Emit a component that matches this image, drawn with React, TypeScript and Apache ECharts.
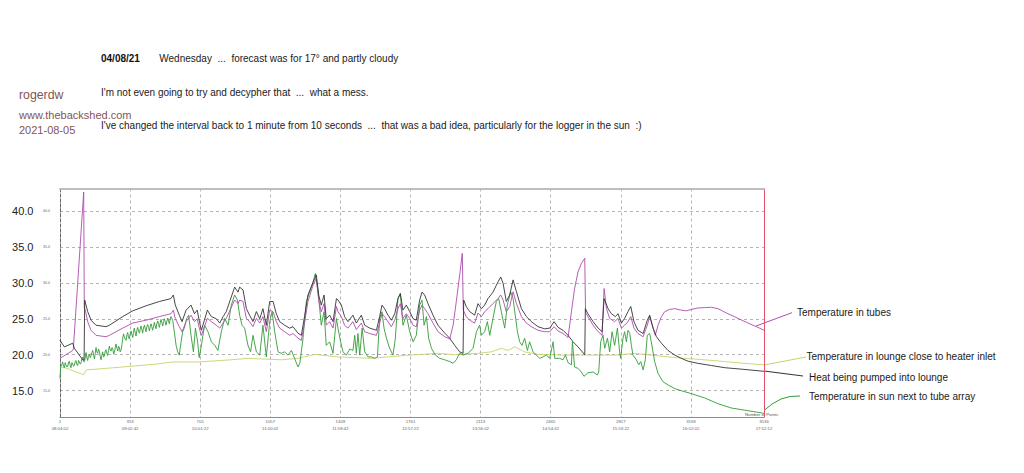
import React, { useEffect, useRef } from "react";
import * as echarts from "echarts";

const xTickIdx = [1, 353, 705, 1057, 1409, 1761, 2113, 2465, 2817, 3169, 3536];
const xTickTimes = ["08:04:02", "09:02:42", "10:01:22", "11:00:02", "11:58:42", "12:57:22", "13:56:02", "14:54:42", "15:53:22", "16:52:02", "17:52:12"];
const yTicks = [15, 20, 25, 30, 35, 40];

const seriesNames = [
  "Temperature in lounge close to heater inlet",
  "Temperature in sun next to tube array",
  "Temperature in tubes",
  "Heat being pumped into lounge",
];

const lounge: [number, number][] = [
  [1, 18.3], [23, 18.2], [48, 18.0], [81, 17.6], [107, 17.4], [118, 17.2], [135, 17.9], [182, 18.0], [316, 18.3], [483, 18.7], [567, 19.0], [700, 19.0], [861, 19.3], [945, 19.5], [1029, 19.4], [1112, 19.3], [1196, 19.5], [1280, 20.05], [1397, 19.7], [1564, 19.5], [1732, 19.9], [1899, 20.2], [1983, 20.0], [2100, 20.2], [2167, 20.4], [2217, 20.9], [2251, 20.6], [2284, 21.1], [2334, 20.4], [2401, 20.05], [2518, 19.95], [2686, 19.95], [2803, 19.95], [2887, 20.2], [2970, 19.95], [3054, 19.7], [3138, 19.5], [3238, 19.3], [3339, 19.05], [3439, 18.8], [3536, 18.6],
];

const sun: [number, number][] = [
  [1, 16.7], [4, 18.3], [10, 18.6], [14, 19.0], [19, 18.4], [23, 18.2], [27, 18.9], [31, 18.6], [36, 18.3], [40, 18.4], [44, 19.0], [48, 19.1], [52, 18.5], [56, 18.2], [61, 18.9], [65, 18.7], [69, 18.4], [73, 18.5], [77, 19.0], [81, 19.2], [86, 18.6], [90, 18.5], [94, 19.2], [98, 19.0], [103, 18.7], [107, 18.9], [111, 19.5], [115, 19.7], [119, 19.1], [123, 19.0], [128, 19.6], [132, 20.3], [136, 19.6], [140, 19.2], [144, 19.9], [148, 20.1], [153, 19.6], [157, 19.9], [161, 20.3], [165, 20.6], [170, 19.9], [174, 19.4], [178, 20.2], [182, 21.0], [186, 20.4], [190, 20.2], [195, 20.8], [199, 20.4], [203, 19.8], [207, 19.3], [211, 19.9], [215, 20.4], [220, 19.7], [224, 19.8], [228, 20.5], [232, 20.7], [236, 20.2], [240, 19.9], [245, 20.6], [249, 21.2], [253, 20.7], [257, 20.5], [262, 21.0], [266, 20.9], [270, 20.1], [274, 20.3], [278, 20.9], [282, 21.5], [287, 20.9], [291, 20.5], [295, 21.2], [299, 21.0], [303, 20.4], [307, 20.6], [312, 21.4], [316, 22.3], [320, 22.9], [324, 22.5], [329, 22.1], [333, 22.0], [337, 22.8], [341, 23.1], [345, 22.4], [349, 22.2], [354, 23.0], [358, 23.3], [362, 22.8], [366, 22.4], [370, 23.1], [374, 23.7], [379, 23.0], [383, 22.6], [387, 23.4], [391, 23.8], [396, 23.2], [400, 23.0], [404, 23.6], [408, 24.0], [412, 23.5], [416, 23.0], [420, 23.7], [425, 24.1], [429, 23.6], [433, 23.2], [437, 23.9], [441, 24.2], [446, 23.8], [450, 23.3], [454, 23.9], [458, 24.3], [462, 23.9], [466, 23.4], [471, 24.0], [475, 24.5], [479, 24.0], [483, 23.6], [487, 24.3], [492, 24.7], [496, 24.2], [500, 23.8], [504, 24.4], [508, 24.9], [512, 24.5], [517, 24.0], [521, 24.6], [525, 25.0], [529, 24.6], [533, 24.1], [538, 24.7], [542, 25.1], [546, 24.7], [550, 24.3], [554, 24.9], [558, 25.3], [563, 25.0], [567, 24.8], [575, 23.2], [584, 21.3], [592, 20.4], [600, 19.95], [609, 21.8], [617, 23.2], [625, 23.7], [637, 25.05], [647, 25.5], [659, 22.7], [671, 20.4], [681, 23.7], [692, 21.8], [700, 19.6],
  [711, 21.3], [727, 24.1], [744, 23.2], [761, 21.8], [778, 21.3], [794, 20.6], [811, 23.2], [828, 25.05], [845, 24.1], [861, 26.9], [878, 28.3], [892, 27.6], [903, 25.5], [915, 24.1], [928, 23.7], [945, 21.3], [958, 20.4], [970, 22.7], [987, 20.4], [1004, 19.95], [1020, 24.1], [1037, 19.7], [1054, 24.6], [1066, 25.97], [1079, 23.2], [1096, 20.4], [1112, 20.2], [1129, 20.4], [1146, 19.95], [1163, 20.6], [1179, 19.5], [1196, 18.3], [1205, 18.8], [1221, 22.2], [1238, 27.4], [1255, 28.75], [1272, 30.1], [1283, 31.3], [1297, 28.75], [1313, 24.1], [1327, 25.97], [1338, 21.3], [1355, 21.8], [1372, 20.2], [1389, 25.05], [1397, 23.7],
  [1410, 21.8], [1422, 20.4], [1439, 19.95], [1456, 20.8], [1472, 20.6], [1481, 22.7], [1489, 20.2], [1497, 22.95], [1506, 19.95], [1518, 23.7], [1531, 20.4], [1548, 19.7], [1564, 19.7], [1581, 19.5], [1595, 19.7], [1606, 25.05], [1618, 25.97], [1628, 23.7], [1640, 22.3], [1656, 20.9], [1673, 19.95], [1685, 22.3], [1698, 27.8], [1710, 28.5], [1723, 24.1], [1740, 25.5], [1757, 23.2], [1774, 21.8], [1790, 22.7], [1807, 26.9], [1819, 27.6], [1829, 24.1], [1841, 25.3], [1852, 22.3], [1866, 20.9], [1886, 19.95], [1908, 19.5], [1933, 19.3], [1958, 19.05], [1975, 18.8], [1991, 19.3], [2008, 20.2], [2025, 19.95], [2050, 20.2], [2075, 20.9], [2092, 23.2], [2108, 24.1],
  [2117, 22.7], [2133, 23.2], [2147, 24.6], [2159, 22.7], [2175, 25.05], [2192, 27.4], [2204, 27.8], [2217, 25.97], [2234, 23.7], [2247, 26.9], [2264, 28.75], [2276, 27.8], [2287, 25.5], [2298, 23.2], [2309, 21.8], [2321, 21.3], [2334, 22.3], [2348, 20.6], [2359, 21.8], [2376, 20.4], [2393, 19.95], [2410, 19.5], [2426, 19.7], [2443, 19.95], [2460, 19.5], [2477, 21.8], [2485, 19.5], [2510, 19.5], [2527, 19.3], [2539, 19.95], [2552, 18.9], [2569, 18.6], [2574, 21.8], [2585, 18.3], [2602, 18.1], [2619, 17.6], [2632, 17.0], [2652, 17.5], [2678, 17.6], [2699, 17.2], [2706, 17.6], [2716, 21.8], [2728, 22.7], [2736, 20.9], [2750, 22.3], [2761, 20.4], [2773, 23.2], [2786, 21.3], [2800, 23.7], [2811, 20.4],
  [2816, 19.5], [2828, 22.3], [2836, 23.2], [2845, 21.8], [2853, 23.4], [2862, 22.95], [2870, 21.3], [2878, 19.95], [2895, 19.3], [2907, 18.6], [2917, 19.05], [2929, 17.9], [2940, 19.3], [2950, 22.7], [2962, 22.95], [2970, 21.8], [2987, 19.05], [3004, 17.4], [3029, 16.25], [3054, 15.8], [3088, 15.3], [3121, 15.0], [3171, 14.6], [3238, 14.0], [3305, 13.2], [3372, 12.6], [3439, 12.3], [3506, 12.0], [3536, 11.85],
];

const tubes: [number, number][] = [
  [1, 19.5], [30, 20.0], [65, 20.6], [68, 20.8], [120, 42.6], [123, 26.5], [128, 26.2], [140, 24.6], [157, 23.4], [182, 22.7], [232, 22.5], [249, 22.7], [316, 23.7], [366, 24.4], [433, 24.8], [500, 25.3], [558, 25.7], [570, 26.2], [580, 25.0], [600, 23.9], [614, 23.2], [634, 24.6], [659, 25.5], [676, 24.6], [690, 25.0], [702, 23.5], [711, 22.7],
  [741, 25.05], [761, 24.6], [786, 24.1], [803, 23.7], [820, 24.4], [836, 25.05], [878, 27.6], [895, 27.1], [903, 27.6], [920, 27.4], [937, 25.05], [953, 24.6], [970, 23.9], [987, 25.05], [1004, 24.4], [1020, 25.3], [1037, 23.2], [1054, 26.2], [1071, 25.97], [1087, 24.6], [1104, 23.7], [1129, 23.2], [1154, 22.7], [1171, 22.95], [1196, 22.3], [1213, 22.0], [1230, 24.6], [1246, 27.4], [1272, 29.7], [1288, 30.6], [1300, 27.6], [1313, 25.97], [1327, 27.1], [1338, 24.1], [1355, 24.6], [1372, 23.7], [1389, 26.7],
  [1397, 25.97], [1414, 25.3], [1430, 24.1], [1447, 23.7], [1472, 24.6], [1489, 23.5], [1514, 24.4], [1531, 23.2], [1556, 22.95], [1590, 22.7], [1606, 24.35], [1618, 25.7], [1631, 25.3], [1648, 24.6], [1665, 23.9], [1682, 24.8], [1698, 26.4], [1710, 27.1], [1723, 25.05], [1740, 25.7], [1757, 25.05], [1774, 24.1], [1790, 23.9], [1807, 26.2], [1819, 26.9], [1832, 26.4], [1849, 25.7], [1874, 24.4], [1899, 23.2], [1933, 22.5], [1958, 22.2], [1975, 24.1], [1991, 27.4], [2008, 31.1], [2021, 34.1], [2026, 26.2], [2041, 25.3], [2058, 24.8], [2083, 24.4], [2100, 25.8],
  [2117, 25.3], [2133, 25.97], [2150, 26.4], [2175, 27.1], [2200, 27.8], [2214, 28.3], [2226, 27.6], [2242, 25.97], [2259, 26.7], [2276, 28.75], [2293, 27.1], [2318, 25.3], [2343, 24.4], [2368, 23.9], [2401, 23.4], [2435, 23.2], [2460, 23.2], [2482, 23.9], [2502, 23.3], [2527, 22.95], [2552, 22.4], [2569, 25.97], [2585, 29.2], [2602, 31.5], [2619, 32.7], [2636, 33.4], [2640, 25.9], [2652, 25.3], [2678, 24.1], [2703, 23.2], [2723, 22.7], [2733, 29.2], [2745, 26.4], [2761, 25.05], [2786, 24.6], [2803, 25.05],
  [2820, 23.7], [2836, 24.1], [2853, 24.6], [2867, 25.3], [2883, 23.7], [2903, 22.95], [2929, 22.5], [2950, 24.1], [2962, 25.3], [2979, 23.7], [2990, 22.7], [3004, 24.1], [3021, 25.3], [3037, 25.97], [3062, 26.3], [3088, 26.4], [3121, 26.2], [3146, 26.1], [3171, 26.3], [3205, 26.5], [3238, 26.55], [3272, 26.6], [3305, 26.4], [3355, 25.7], [3406, 25.05], [3456, 24.4], [3506, 23.8], [3536, 23.4],
];

const heat: [number, number][] = [
  [1, 22.0], [23, 21.1], [65, 21.6], [73, 20.9], [115, 19.3], [122, 19.3], [125, 27.6], [140, 26.0], [157, 24.8], [182, 24.1], [232, 23.9], [249, 24.1], [316, 25.3], [366, 26.1], [433, 26.8], [500, 27.4], [558, 27.8], [570, 28.3], [580, 26.9], [600, 25.5], [614, 24.6], [634, 26.2], [659, 26.9], [676, 25.7], [690, 26.2], [702, 24.5], [711, 23.4],
  [741, 26.2], [761, 25.3], [786, 25.0], [803, 24.4], [820, 25.3], [836, 26.0], [878, 29.4], [895, 28.7], [903, 29.4], [920, 29.0], [937, 26.4], [953, 25.5], [970, 24.6], [987, 26.0], [1004, 25.0], [1020, 26.4], [1037, 24.1], [1054, 27.4], [1071, 27.4], [1087, 25.7], [1104, 24.6], [1129, 24.1], [1154, 23.7], [1171, 23.9], [1196, 23.0], [1213, 22.7], [1230, 25.5], [1246, 28.3], [1272, 30.1], [1288, 31.1], [1300, 28.3], [1313, 26.9], [1327, 28.3], [1338, 25.0], [1355, 25.5], [1372, 24.6], [1389, 27.8],
  [1397, 27.6], [1414, 26.9], [1430, 25.3], [1447, 24.6], [1472, 25.5], [1489, 24.4], [1514, 25.5], [1531, 24.1], [1556, 23.7], [1590, 23.4], [1606, 25.3], [1618, 26.9], [1631, 26.4], [1648, 25.5], [1665, 24.8], [1682, 25.7], [1698, 27.8], [1710, 28.5], [1723, 26.2], [1740, 26.9], [1757, 26.0], [1774, 25.0], [1790, 24.8], [1807, 27.6], [1819, 28.7], [1832, 28.3], [1849, 27.1], [1874, 25.5], [1899, 24.1], [1933, 23.0], [1958, 22.3], [1983, 21.3], [2008, 20.4], [2025, 20.2], [2028, 27.6], [2041, 26.7], [2058, 26.0], [2083, 25.5], [2100, 27.1],
  [2117, 26.4], [2133, 26.9], [2150, 27.8], [2175, 28.7], [2200, 30.1], [2214, 30.8], [2226, 29.9], [2242, 27.4], [2259, 28.3], [2276, 30.4], [2293, 28.75], [2318, 26.4], [2343, 25.3], [2368, 24.6], [2401, 23.9], [2435, 23.6], [2460, 23.7], [2482, 24.6], [2502, 23.8], [2527, 23.4], [2552, 22.7], [2577, 21.8], [2602, 21.1], [2636, 20.0], [2639, 26.4], [2652, 25.7], [2678, 24.6], [2703, 23.7], [2723, 23.2], [2733, 27.8], [2753, 26.4], [2770, 25.7], [2790, 25.3], [2803, 25.7],
  [2820, 24.4], [2836, 25.05], [2853, 26.0], [2867, 26.7], [2883, 24.6], [2903, 23.4], [2929, 22.95], [2950, 24.8], [2962, 25.5], [2979, 23.7], [2996, 22.5], [3021, 21.6], [3054, 20.6], [3088, 19.95], [3121, 19.5], [3155, 19.1], [3205, 18.8], [3272, 18.5], [3339, 18.2], [3422, 18.0], [3536, 17.7],
];

const FONT = '"Liberation Sans", Arial, sans-serif';
const Y_MIN = 11.35;
const Y_MAX = 43.1;
const X_MIN = 1;
const X_MAX = 3536;

const COLORS = {
  lounge: "#c8d36a",
  sun: "#339c38",
  tubes: "#ad4cad",
  heat: "#333333",
  red: "#e8506a",
};

function txt(x: number, y: number, text: string, size: number, fill = "#1a1a1a", weight = "normal") {
  return {
    type: "text",
    x,
    y,
    silent: true,
    style: {
      text,
      fill,
      font: `${weight} ${size}px ${FONT}`,
      verticalAlign: "middle",
      align: "left",
    },
  };
}

function ln(x1: number, y1: number, x2: number, y2: number, stroke: string) {
  return { type: "line", silent: true, shape: { x1, y1, x2, y2 }, style: { stroke, lineWidth: 1 } };
}

export default function App() {
  const ref = useRef<HTMLDivElement>(null);
  useEffect(() => {
    if (!ref.current) return;
    const chart = echarts.init(ref.current, undefined, { renderer: "svg" });
    const mkSeries = (name: string, data: [number, number][], color: string) => ({
      name,
      type: "line",
      data,
      showSymbol: false,
      symbol: "none",
      lineStyle: { color, width: 0.9 },
      itemStyle: { color },
      emphasis: { disabled: true },
      silent: true,
    });
    chart.setOption({
      animation: false,
      backgroundColor: "#ffffff",
      textStyle: { fontFamily: FONT },
      grid: { left: 60, top: 188.5, width: 704, height: 228.5, containLabel: false, outerBoundsMode: "none" },
      xAxis: [
        {
          type: "value",
          min: X_MIN,
          max: X_MAX,
          axisLine: { show: true, lineStyle: { color: "#8c8c8c", width: 1 } },
          axisTick: { show: false, customValues: xTickIdx },
          axisLabel: {
            customValues: xTickIdx,
            fontSize: 4.3,
            color: "#666",
            margin: 0.5,
            lineHeight: 7.6,
            fontFamily: FONT,
            formatter: (v: number) => {
              const i = xTickIdx.indexOf(Math.round(v));
              return `${Math.round(v)}\n${i >= 0 ? xTickTimes[i] : ""}`;
            },
          },
          splitLine: { show: true, lineStyle: { color: "#b4b4b4", type: [3, 3], width: 1 } },
        },
        {
          type: "value",
          position: "top",
          min: X_MIN,
          max: X_MAX,
          axisLine: { show: true, lineStyle: { color: "#bdbdbd", width: 2 } },
          axisTick: { show: false },
          axisLabel: { show: false },
          splitLine: { show: false },
        },
      ],
      yAxis: [
        {
          type: "value",
          min: Y_MIN,
          max: Y_MAX,
          axisLine: { show: true, lineStyle: { color: "#666", type: [3, 2], width: 1 } },
          axisTick: { show: false, customValues: yTicks },
          axisLabel: {
            customValues: yTicks,
            fontSize: 3.6,
            color: "#666",
            margin: 10,
            fontFamily: FONT,
            formatter: (v: number) => v.toFixed(1),
          },
          splitLine: { show: true, lineStyle: { color: "#b4b4b4", type: [3, 3], width: 1 } },
        },
        {
          type: "value",
          position: "right",
          min: Y_MIN,
          max: Y_MAX,
          axisLine: { show: true, onZero: false, lineStyle: { color: COLORS.red, width: 1 } },
          axisTick: { show: false },
          axisLabel: { show: false },
          splitLine: { show: false },
        },
        {
          type: "value",
          position: "left",
          offset: 18,
          min: Y_MIN,
          max: Y_MAX,
          axisLine: { show: false },
          axisTick: { show: false, customValues: yTicks },
          axisLabel: {
            customValues: yTicks,
            fontSize: 11,
            color: "#222",
            margin: 8.5,
            fontFamily: FONT,
            formatter: (v: number) => v.toFixed(1),
          },
          splitLine: { show: false },
        },
      ],
      series: [
        mkSeries(seriesNames[0], lounge, COLORS.lounge),
        mkSeries(seriesNames[1], sun, COLORS.sun),
        mkSeries(seriesNames[2], tubes, COLORS.tubes),
        mkSeries(seriesNames[3], heat, COLORS.heat),
      ],
      graphic: [
        txt(101, 58.3, "04/08/21", 10, "#111", "bold"),
        txt(159.3, 58.3, "Wednesday  ...  forecast was for 17° and partly cloudy", 10),
        txt(19, 95, "rogerdw", 12.3, "#855454"),
        txt(101, 92.3, "I'm not even going to try and decypher that  ...  what a mess.", 10),
        txt(19, 115, "www.thebackshed.com", 11, "#855454"),
        txt(19, 130, "2021-08-05", 11, "#855454"),
        txt(101, 125, "I've changed the interval back to 1 minute from 10 seconds  ...  that was a bad idea, particularly for the logger in the sun  :)", 10),
        txt(745, 414, "Number of Points", 4.3, "#555"),
        ln(756, 326, 792, 312.7, COLORS.tubes),
        ln(764, 365, 806, 357, COLORS.lounge),
        ln(764, 371, 803, 376, COLORS.heat),
        { type: "polyline", silent: true, shape: { points: [[764, 410.5], [772, 404], [781, 399], [790, 396.5], [800, 396]] }, style: { stroke: COLORS.sun, lineWidth: 1, fill: "none" } },
        txt(797, 312.7, seriesNames[2], 10),
        txt(806.5, 356.7, seriesNames[0], 10),
        txt(809, 377.3, seriesNames[3], 10),
        txt(809, 396.7, seriesNames[1], 10),
      ],
    });
    return () => chart.dispose();
  }, []);
  return (
    <div
      ref={ref}
      style={{ position: "fixed", left: 0, top: 0, width: 1024, height: 473, background: "#fff" }}
    />
  );
}
